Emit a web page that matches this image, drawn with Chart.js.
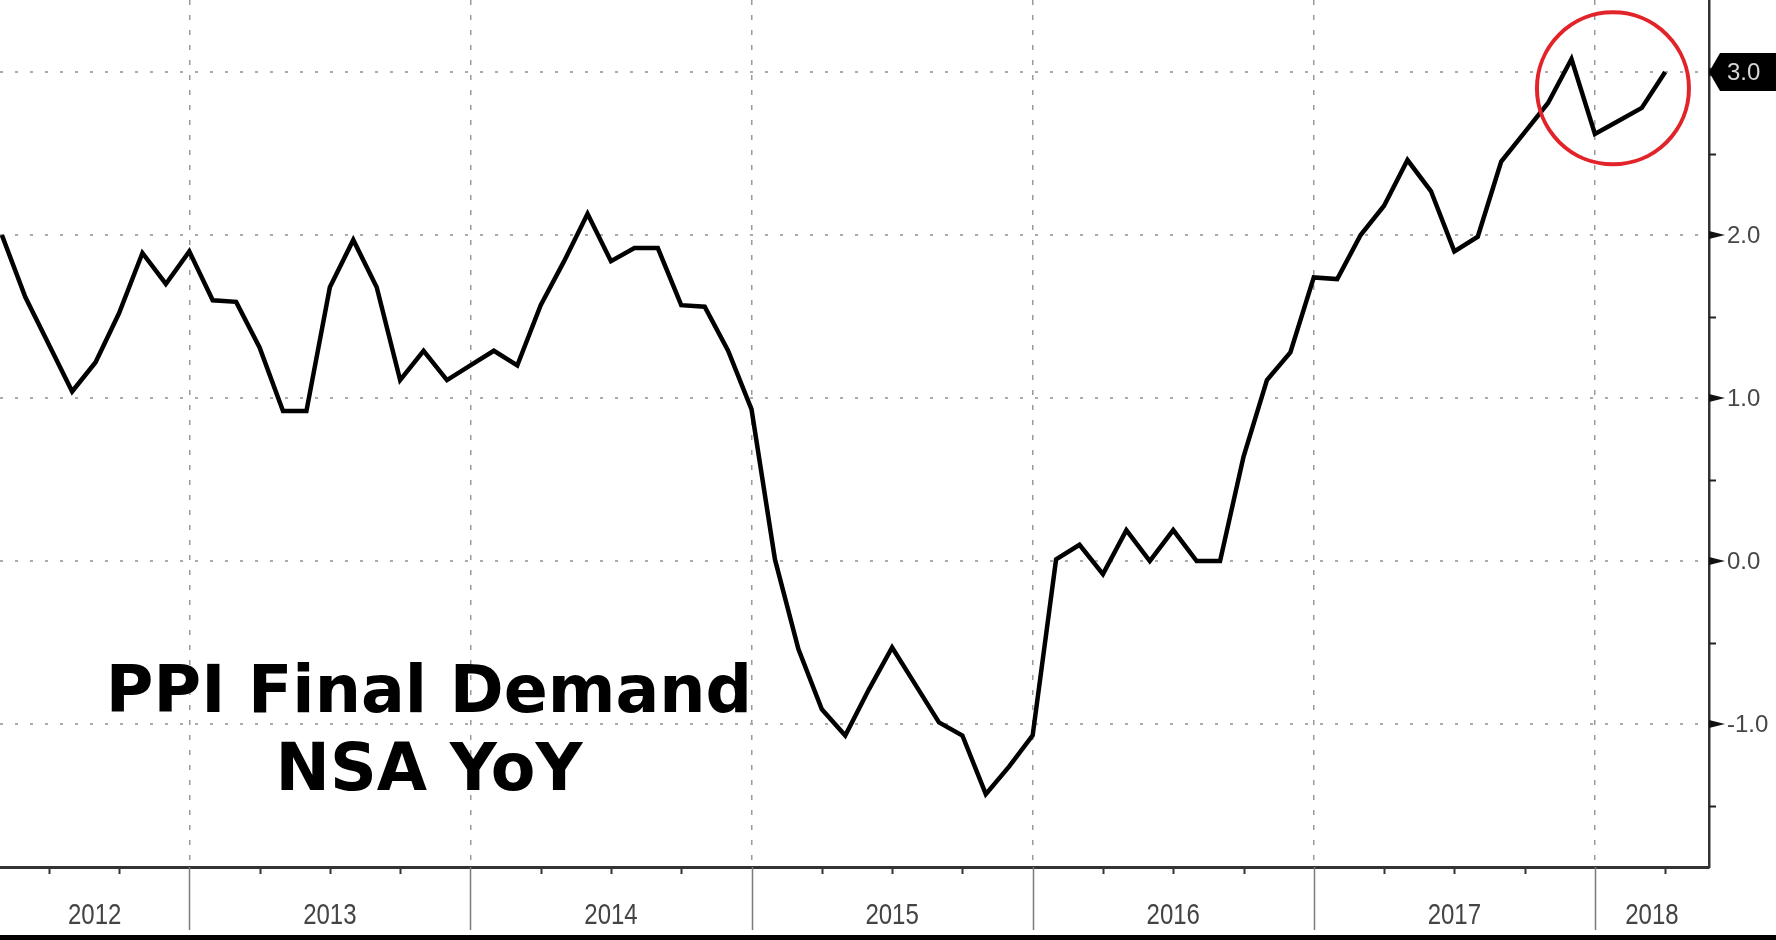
<!DOCTYPE html>
<html><head><meta charset="utf-8">
<script src="https://cdn.jsdelivr.net/npm/chart.js@4.4.1/dist/chart.umd.min.js"></script>
<style>html,body{margin:0;padding:0;background:#fff;overflow:hidden}#wrap{width:1776px;height:940px;position:relative}</style>
</head><body><div id="wrap"><canvas id="c" width="1776" height="940"></canvas></div>
<script>
// Monthly observations (plotted at month end)
const months = [
  '2012-04','2012-05','2012-06','2012-07','2012-08','2012-09','2012-10','2012-11','2012-12',
  '2013-01','2013-02','2013-03','2013-04','2013-05','2013-06','2013-07','2013-08','2013-09','2013-10','2013-11','2013-12',
  '2014-01','2014-02','2014-03','2014-04','2014-05','2014-06','2014-07','2014-08','2014-09','2014-10','2014-11','2014-12',
  '2015-01','2015-02','2015-03','2015-04','2015-05','2015-06','2015-07','2015-08','2015-09','2015-10','2015-11','2015-12',
  '2016-01','2016-02','2016-03','2016-04','2016-05','2016-06','2016-07','2016-08','2016-09','2016-10','2016-11','2016-12',
  '2017-01','2017-02','2017-03','2017-04','2017-05','2017-06','2017-07','2017-08','2017-09','2017-10','2017-11','2017-12',
  '2018-01','2018-02','2018-03'
];
const ppiYoY = [
  2.0, 1.62, 1.33, 1.04, 1.22, 1.52, 1.89, 1.70, 1.90,
  1.60, 1.59, 1.31, 0.92, 0.92, 1.68, 1.97, 1.68, 1.11, 1.29, 1.11, 1.20,
  1.29, 1.20, 1.57, 1.84, 2.13, 1.84, 1.92, 1.92, 1.57, 1.56, 1.29, 0.93,
  0.01, -0.54, -0.91, -1.07, -0.79, -0.53, -0.76, -0.99, -1.07, -1.43, -1.26, -1.07,
  0.01, 0.10, -0.08, 0.19, 0.0, 0.19, 0.0, 0.0, 0.64, 1.11, 1.28, 1.74,
  1.73, 2.0, 2.18, 2.46, 2.27, 1.90, 1.99, 2.45, 2.63, 2.81, 3.08, 2.62,
  2.70, 2.78, 3.0
];
const yTicks = [-1, 0, 1, 2, 3];
const yMinorTicks = [-1.5, -0.5, 0.5, 1.5, 2.5];
const yearLabels = ['2012','2013','2014','2015','2016','2017','2018'];
const titleLines = ['PPI Final Demand', 'NSA YoY'];
const highlight = { x: 72.77, y: 2.9 }; // red circle centre (months since Jan 2012, value)

const baseYear = 2012;
const monthPos = s => (parseInt(s.slice(0,4)) - baseYear) * 12 + parseInt(s.slice(5));
const yearStarts = yearLabels.slice(1).map(y => (parseInt(y) - baseYear) * 12);

const decor = {
  id: 'decor',
  beforeDraw(chart) {
    const c = chart.ctx;
    c.save(); c.fillStyle = '#fff'; c.fillRect(0, 0, chart.width, chart.height); c.restore();
  },
  afterDatasetsDraw(chart) {
    const c = chart.ctx, {x, y} = chart.scales;
    c.save();
    c.fillStyle = '#000';
    c.font = 'bold 65px "DejaVu Sans", Verdana, sans-serif';
    c.textAlign = 'center'; c.textBaseline = 'alphabetic';
    c.fillText(titleLines[0], 429, 712);
    c.fillText(titleLines[1], 429, 790);
    // red circle
    c.strokeStyle = '#e2242a'; c.lineWidth = 4;
    c.beginPath();
    c.arc(x.getPixelForValue(highlight.x), y.getPixelForValue(highlight.y), 76, 0, Math.PI * 2);
    c.stroke();
    c.restore();
  },
  afterDraw(chart) {
    const c = chart.ctx, a = chart.chartArea, {x, y} = chart.scales;
    c.save();
    // y minor ticks
    c.strokeStyle = '#222'; c.lineWidth = 2;
    yMinorTicks.forEach(v => {
      const py = Math.round(y.getPixelForValue(v)) + 0.5;
      c.beginPath(); c.moveTo(a.right, py); c.lineTo(a.right + 7, py); c.stroke();
    });
    // y major wedges + labels
    c.font = '24px "Liberation Sans", Arial, sans-serif';
    c.textAlign = 'left'; c.textBaseline = 'middle';
    yTicks.forEach(v => {
      const py = y.getPixelForValue(v);
      c.fillStyle = '#111';
      c.beginPath(); c.moveTo(a.right, py - 4); c.lineTo(a.right + 16, py); c.lineTo(a.right, py + 4); c.closePath(); c.fill();
      c.fillStyle = '#474747';
      c.fillText(v.toFixed(1), a.right + 18, py + 1);
    });
    // last value flag
    const last = ppiYoY[ppiYoY.length - 1];
    const fy = y.getPixelForValue(last);
    c.fillStyle = '#000';
    c.beginPath();
    c.moveTo(a.right, fy); c.lineTo(a.right + 11, fy - 19); c.lineTo(chart.width, fy - 19);
    c.lineTo(chart.width, fy + 19); c.lineTo(a.right + 11, fy + 19); c.closePath(); c.fill();
    c.fillStyle = '#d6d6d6';
    c.fillText(last.toFixed(1), a.right + 18, fy + 1);
    // x quarter ticks
    c.strokeStyle = '#333'; c.lineWidth = 2;
    for (let m = Math.ceil(x.min / 3) * 3; m <= x.max; m += 3) {
      if (m % 12 === 0) continue;
      const px = Math.round(x.getPixelForValue(m)) + 0.5;
      c.beginPath(); c.moveTo(px, a.bottom); c.lineTo(px, a.bottom + 7); c.stroke();
    }
    // year separators below axis
    c.strokeStyle = '#7a7a7a'; c.lineWidth = 1.5;
    yearStarts.forEach(m => {
      const px = Math.round(x.getPixelForValue(m)) + 0.5;
      c.beginPath(); c.moveTo(px, a.bottom); c.lineTo(px, 930); c.stroke();
    });
    // year labels centred in visible span (narrow)
    c.fillStyle = '#444';
    c.font = '30px "Liberation Sans", Arial, sans-serif';
    c.textAlign = 'center'; c.textBaseline = 'middle';
    yearLabels.forEach(lbl => {
      const s = (parseInt(lbl) - baseYear) * 12;
      const p0 = Math.max(a.left, x.getPixelForValue(s));
      const p1 = Math.min(a.right, x.getPixelForValue(s + 12));
      const cx = (p0 + p1) / 2;
      c.save(); c.translate(cx, 916); c.scale(0.8, 1); c.fillText(lbl, 0, 0); c.restore();
    });
    // bottom frame bar
    c.fillStyle = '#000';
    c.fillRect(0, 935, chart.width, 5);
    c.restore();
  }
};

new Chart(document.getElementById('c').getContext('2d'), {
  type: 'line',
  data: {
    datasets: [{
      data: months.map((m, i) => ({ x: monthPos(m), y: ppiYoY[i] })),
      borderColor: '#000', borderWidth: 4.5, pointRadius: 0, tension: 0,
      borderJoinStyle: 'miter', fill: false
    }]
  },
  options: {
    responsive: false, animation: false, devicePixelRatio: 1,
    layout: { padding: 0 },
    plugins: { legend: { display: false }, tooltip: { enabled: false } },
    scales: {
      x: {
        type: 'linear', min: 3.92, max: 76.87, position: 'bottom',
        afterBuildTicks: s => { s.ticks = yearStarts.map(v => ({ value: v })); },
        afterFit: s => { s.height = 73; },
        ticks: { display: false },
        grid: { color: '#9a9a9a', lineWidth: 1.5, drawTicks: false },
        border: { display: true, color: '#333', width: 3, dash: [5, 10] }
      },
      y: {
        type: 'linear', position: 'right', min: -1.877, max: 3.442,
        afterBuildTicks: s => { s.ticks = yTicks.map(v => ({ value: v })); },
        afterFit: s => { s.width = 67; },
        ticks: { display: false },
        grid: { color: '#ababab', lineWidth: 2, drawTicks: false },
        border: { display: true, color: '#333', width: 2.5, dash: [3, 12] }
      }
    }
  },
  plugins: [decor]
});
</script>
</body></html>
